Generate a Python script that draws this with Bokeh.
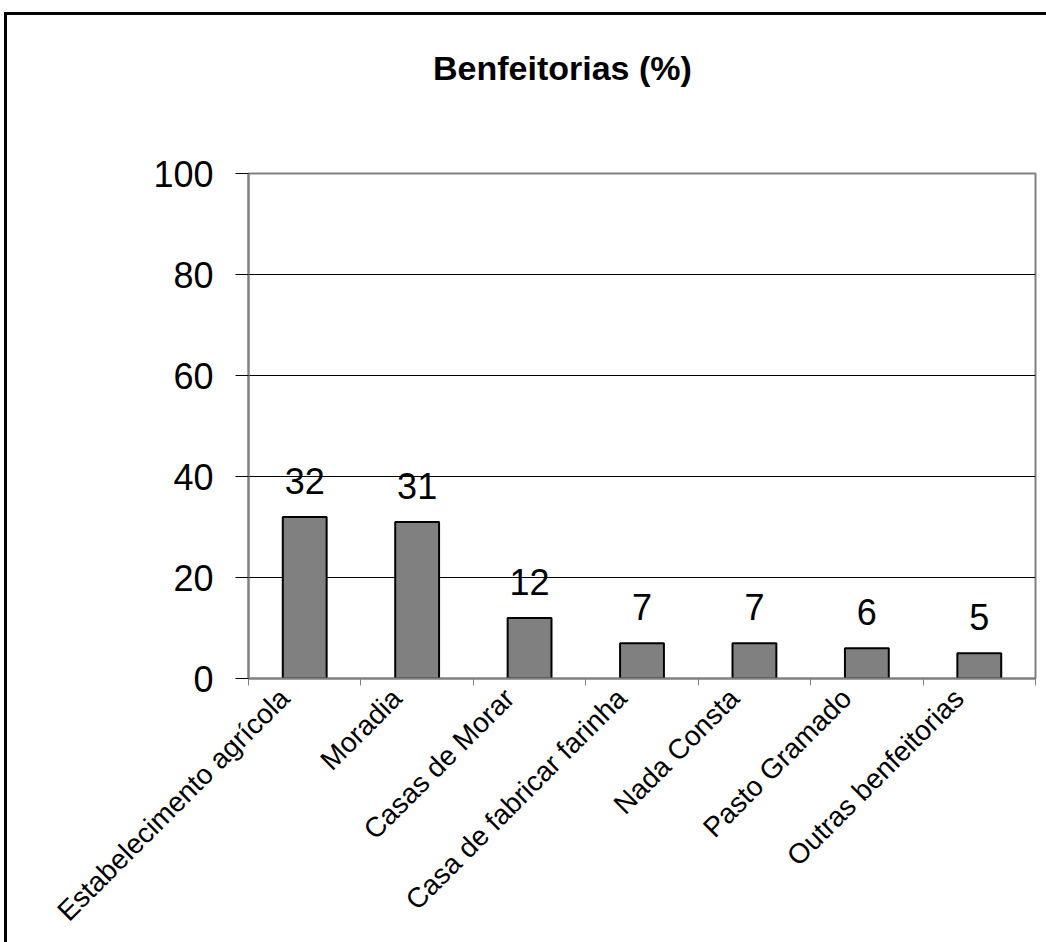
from math import pi

from bokeh.core.properties import value
from bokeh.embed import file_html
from bokeh.layouts import column
from bokeh.models import ColumnDataSource, Div, FixedTicker, Range1d
from bokeh.plotting import figure
from bokeh.resources import INLINE

# Data
categories = [
    "Estabelecimento agrícola",
    "Moradia",
    "Casas de Morar",
    "Casa de fabricar farinha",
    "Nada Consta",
    "Pasto Gramado",
    "Outras benfeitorias",
]
percentages = [32, 31, 12, 7, 7, 6, 5]
y_ticks = [0, 20, 40, 60, 80, 100]
chart_title = "Benfeitorias (%)"

FONT = "Liberation Sans"
HEADER_H = 100

positions = [i + 0.5 for i in range(len(categories))]
label_anchor = [pos - 0.18 for pos in positions]
source = ColumnDataSource(dict(
    x=positions,
    top=percentages,
    label=[str(v) for v in percentages],
))

# Header with the chart title
header = Div(
    text=(
        '<div style="padding:46px 0 0 428px; font-family:\'Liberation Sans\'; '
        'font-weight:bold; font-size:34px; line-height:34px; color:black; '
        f'white-space:nowrap;">{chart_title}</div>'
    ),
    width=1046,
    height=HEADER_H,
)

p = figure(
    width=1046,
    height=942 - HEADER_H,
    x_range=Range1d(0, len(categories)),
    y_range=Range1d(0, 100),
    output_backend="svg",
    toolbar_location=None,
    min_border_left=248,
    min_border_right=11,
    min_border_top=163 - HEADER_H,
    min_border_bottom=274,
    background_fill_color="white",
    border_fill_color=None,
)
p.title.visible = False

# Plot area border
p.outline_line_color = "#808080"
p.outline_line_width = 2

# Bars
p.vbar(x="x", top="top", width=0.39, source=source,
       fill_color="#808080", line_color="black", line_width=2)

# Value labels
p.text(x="x", y="top", text="label", source=source,
       text_font=value(FONT), text_font_size="36px", text_color="black",
       text_align="center", text_baseline="alphabetic", y_offset=-36)

# Y axis
p.yaxis.ticker = FixedTicker(ticks=y_ticks)
p.yaxis.axis_line_color = "#808080"
p.yaxis.axis_line_width = 2
p.yaxis.major_tick_line_color = "black"
p.yaxis.major_tick_out = 13
p.yaxis.major_tick_in = 0
p.yaxis.minor_tick_line_color = None
p.yaxis.major_label_standoff = 22
p.yaxis.major_label_text_font = FONT
p.yaxis.major_label_text_font_size = "36px"
p.yaxis.major_label_text_color = "black"

p.ygrid.ticker = FixedTicker(ticks=y_ticks)
p.ygrid.grid_line_color = "black"
p.ygrid.grid_line_width = 1
p.xgrid.grid_line_color = None

# X axis: rotated category names, tick marks on category boundaries
p.xaxis.ticker = FixedTicker(ticks=label_anchor,
                             minor_ticks=list(range(len(categories) + 1)))
p.xaxis.major_label_overrides = {pos: name for pos, name in zip(label_anchor, categories)}
p.xaxis.major_label_orientation = pi / 4
p.xaxis.major_label_text_font = FONT
p.xaxis.major_label_text_font_size = "28px"
p.xaxis.major_label_text_color = "black"
p.xaxis.major_label_standoff = 8
p.xaxis.major_tick_line_color = None
p.xaxis.minor_tick_line_color = "#808080"
p.xaxis.minor_tick_line_width = 1
p.xaxis.minor_tick_out = 7
p.xaxis.minor_tick_in = 0
p.xaxis.axis_line_color = "#808080"
p.xaxis.axis_line_width = 2

# Outer chart frame (left and top edges) painted behind the transparent canvas border
root = column(header, p, spacing=0, styles={
    "background-color": "white",
    "box-shadow": "inset 4px 12px 0 0 white, inset 7px 15px 0 0 black",
})

open("out.html", "w").write(file_html(root, INLINE))
